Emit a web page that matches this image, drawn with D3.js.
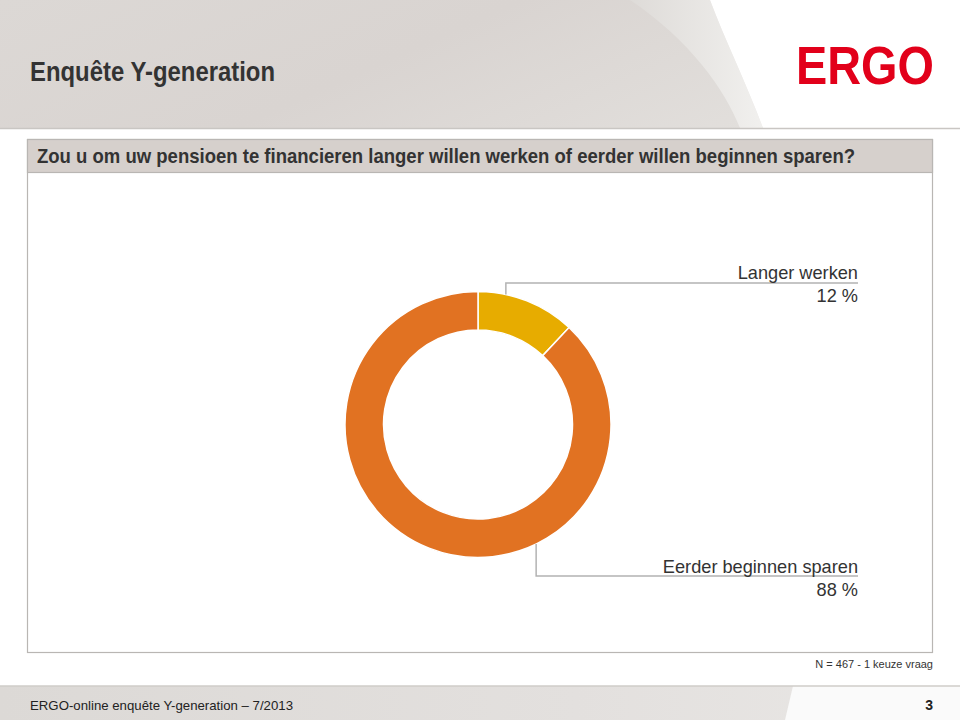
<!DOCTYPE html>
<html><head><meta charset="utf-8">
<script src="https://cdn.jsdelivr.net/npm/d3@7"></script>
<style>body{margin:0;background:#fff}svg{display:block}</style>
</head><body>
<svg id="c" width="960" height="720"></svg>
<script>
const categories = ["Langer werken", "Eerder beginnen sparen"];
const values = [12, 88];
const valueLabels = ["12 %", "88 %"];
const colors = ["#e7ac00", "#e17222"];
const titleText = "Enquête Y-generation";
const questionText = "Zou u om uw pensioen te financieren langer willen werken of eerder willen beginnen sparen?";
const noteText = "N = 467 - 1 keuze vraag";
const footerText = "ERGO-online enquête Y-generation – 7/2013";
const pageNo = "3";

const svg = d3.select("#c");
const font = "'Liberation Sans', Arial, sans-serif";
const defs = svg.append("defs");
const g1 = defs.append("linearGradient").attr("id","hg").attr("x1","0").attr("x2","1").attr("y1","0").attr("y2","0.3");
g1.append("stop").attr("offset","0").attr("stop-color","#dcd8d5");
g1.append("stop").attr("offset","0.5").attr("stop-color","#d9d4d1");
g1.append("stop").attr("offset","1").attr("stop-color","#e2dfdc");
const g2 = defs.append("linearGradient").attr("id","cg").attr("x1","0").attr("x2","1");
g2.append("stop").attr("offset","0").attr("stop-color","#dedbd8");
g2.append("stop").attr("offset","1").attr("stop-color","#f1f0ee");
const g3 = defs.append("linearGradient").attr("id","fg").attr("x1","0").attr("x2","1");
g3.append("stop").attr("offset","0").attr("stop-color","#dcd9d6");
g3.append("stop").attr("offset","0.6").attr("stop-color","#e3e0de");
g3.append("stop").attr("offset","1").attr("stop-color","#e9e7e5");

// header background
svg.append("rect").attr("x",0).attr("y",0).attr("width",960).attr("height",128).attr("fill","url(#hg)");
svg.append("path").attr("d","M630,0 C690,40 725,90 740,128 L763,128 C745,80 725,40 710,0 Z").attr("fill","url(#cg)");
svg.append("path").attr("d","M710,0 C725,40 745,80 763,128 L960,128 L960,0 Z").attr("fill","#ffffff");
svg.append("line").attr("x1",0).attr("x2",960).attr("y1",128.5).attr("y2",128.5).attr("stroke","#c9c6c3").attr("stroke-width",1.5);

svg.append("text").attr("x",30).attr("y",81).attr("font-family",font).attr("font-weight","bold")
  .attr("font-size",27).attr("fill","#333333").attr("textLength",245).attr("lengthAdjust","spacingAndGlyphs").text(titleText);
svg.append("text").attr("x",796).attr("y",84).attr("font-family",font).attr("font-weight","bold")
  .attr("font-size",53).attr("fill","#e2001a").attr("textLength",138).attr("lengthAdjust","spacingAndGlyphs").text("ERGO");

// footer
svg.append("rect").attr("x",0).attr("y",686).attr("width",960).attr("height",34).attr("fill","url(#fg)");
svg.append("path").attr("d","M793,686 L960,686 L960,720 L785,720 Z").attr("fill","#fafafa");
svg.append("line").attr("x1",0).attr("x2",960).attr("y1",686).attr("y2",686).attr("stroke","#cfccc9").attr("stroke-width",1.5);
svg.append("text").attr("x",30).attr("y",710).attr("font-family",font).attr("font-size",13.5).attr("fill","#222")
  .attr("textLength",263).attr("lengthAdjust","spacingAndGlyphs").text(footerText);
svg.append("text").attr("x",933).attr("y",710).attr("text-anchor","end").attr("font-family",font).attr("font-weight","bold").attr("font-size",14).attr("fill","#222").text(pageNo);

// chart frame
svg.append("rect").attr("x",27.5).attr("y",139.5).attr("width",905).attr("height",513).attr("fill","#fff").attr("stroke","#b9b6b3").attr("stroke-width",1.2);
svg.append("rect").attr("x",27.5).attr("y",139.5).attr("width",905).attr("height",33).attr("fill","#d6d0cc").attr("stroke","#b9b6b3").attr("stroke-width",1.2);
svg.append("text").attr("x",37).attr("y",163).attr("font-family",font).attr("font-weight","bold").attr("font-size",20.5).attr("fill","#333")
  .attr("textLength",818).attr("lengthAdjust","spacingAndGlyphs").text(questionText);
svg.append("text").attr("x",933).attr("y",668).attr("text-anchor","end").attr("font-family",font).attr("font-size",11).attr("fill","#333").text(noteText);

// donut
const cx = 478, cy = 424.5, rOuter = 133, rInner = 94.5;
const color = d3.scaleOrdinal().domain(categories).range(colors);
const pie = d3.pie().sort(null).value(d => d.v);
const data = categories.map((c,i) => ({c, v: values[i], l: valueLabels[i]}));
const arcs = pie(data);
const arc = d3.arc().innerRadius(rInner).outerRadius(rOuter);
const gp = svg.append("g").attr("transform",`translate(${cx},${cy})`);
gp.selectAll("path").data(arcs).join("path").attr("d",arc).attr("fill",d=>color(d.data.c))
  .attr("stroke","#fff").attr("stroke-width",1.5);

// leader lines + labels
const labelRight = 858;
const anchorAngles = [0.28, 0.35]; // fraction within slice for leader anchor
const lineY = [283, 576];
const textY = [[279, 302],[573, 596]];
arcs.forEach((a,i) => {
  const ang = a.startAngle + (a.endAngle - a.startAngle) * anchorAngles[i];
  const px = cx + rOuter * Math.sin(ang);
  const py = cy - rOuter * Math.cos(ang);
  svg.append("polyline").attr("points",`${px},${py} ${px},${lineY[i]} ${labelRight},${lineY[i]}`)
    .attr("fill","none").attr("stroke","#b3b3b3").attr("stroke-width",1.5);
  svg.append("text").attr("x",labelRight).attr("y",textY[i][0]).attr("text-anchor","end").attr("font-family",font)
    .attr("font-size",18.2).attr("fill","#333").text(a.data.c);
  svg.append("text").attr("x",labelRight).attr("y",textY[i][1]).attr("text-anchor","end").attr("font-family",font)
    .attr("font-size",18.2).attr("fill","#333").text(a.data.l);
});
</script>
</body></html>
